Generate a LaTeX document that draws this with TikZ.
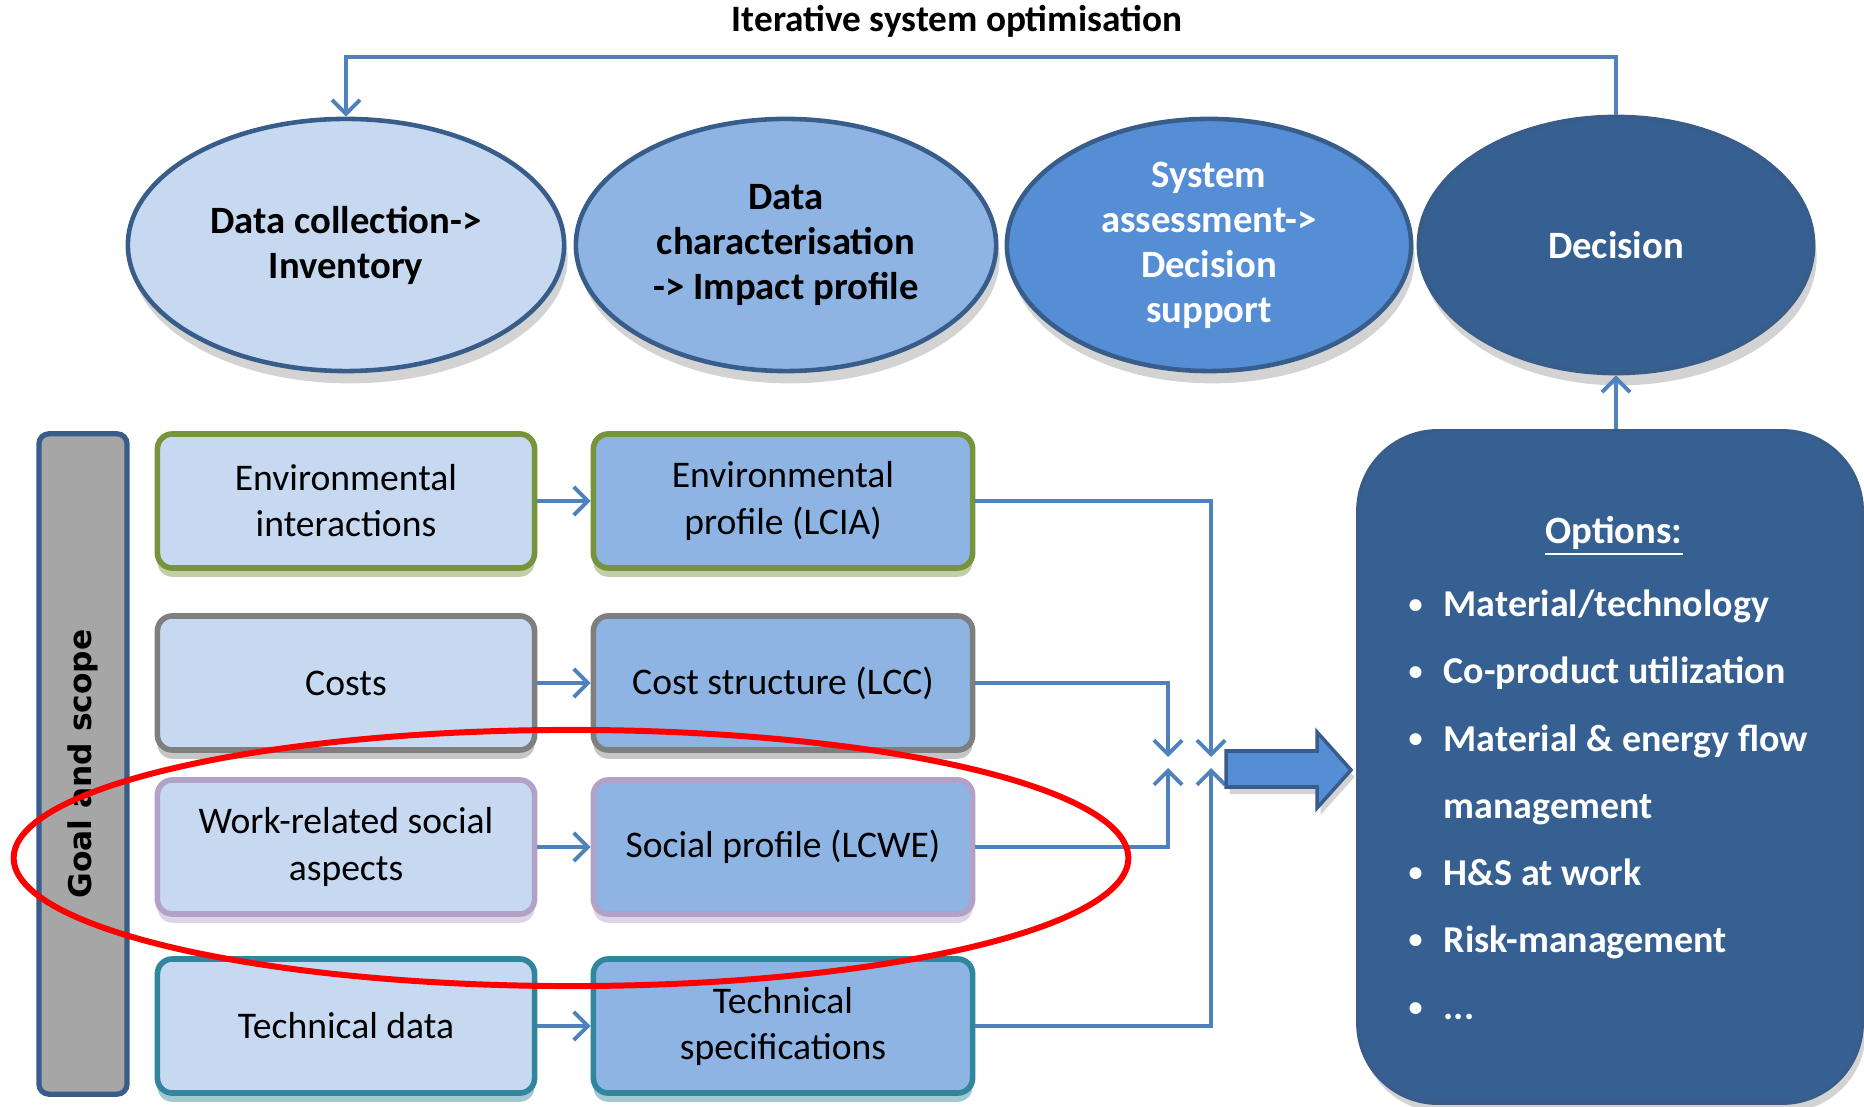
\documentclass[tikz,border=0pt]{standalone}
\usepackage{fontspec}
\setmainfont{Carlito}
\newfontfamily\goalfont{DejaVu Sans}
\usetikzlibrary{shapes.geometric,arrows.meta,shadows}
\definecolor{paleblue}{HTML}{C6D9F1}
\definecolor{midblue}{HTML}{8EB4E3}
\definecolor{brightblue}{HTML}{558ED5}
\definecolor{darkblue}{HTML}{376092}
\definecolor{rimblue}{HTML}{385D8A}
\definecolor{flowblue}{HTML}{4F81BD}
\definecolor{envgreen}{HTML}{77933C}
\definecolor{costgray}{HTML}{7F7F7F}
\definecolor{socpurple}{HTML}{B3A2C7}
\definecolor{techteal}{HTML}{31859C}
\definecolor{goalgray}{HTML}{A6A6A6}
\newcommand{\optbullet}{\makebox[0.35cm][l]{\raisebox{0.2ex}{\footnotesize\textbullet}}}
\begin{document}
\begin{tikzpicture}[x=0.01cm, y=-0.01cm,
  phase/.style={ellipse, draw=rimblue, line width=1.3pt, inner sep=0pt, align=center,
    font=\fontsize{11}{12.8}\selectfont\bfseries,
    drop shadow={shadow xshift=1pt, shadow yshift=-3.5pt, opacity=0.35}},
  block/.style={rectangle, rounded corners=0.15cm, draw=#1, line width=1.6pt,
    minimum height=1.34cm, align=center, font=\fontsize{10.7}{13.1}\selectfont,
    drop shadow={shadow xshift=0pt, shadow yshift=-2.5pt, fill=#1, opacity=0.45}},
  inblock/.style={block=#1, fill=paleblue, minimum width=3.77cm},
  outblock/.style={block=#1, fill=midblue, minimum width=3.79cm},
  flow/.style={draw=flowblue, line width=1.1pt, -{Straight Barb[length=4pt,width=8pt]}}]
\useasboundingbox (0,0) rectangle (1864,1107);
\node[font=\fontsize{10.6}{13}\selectfont\bfseries] (title) at (957,21) {Iterative system optimisation};
\node[phase, fill=paleblue, minimum width=4.36cm, minimum height=2.52cm] (collect) at (346,245) {Data collection->\\Inventory};
\node[phase, fill=midblue, minimum width=4.20cm, minimum height=2.52cm] (charact) at (786,245) {Data\\characterisation\\-> Impact profile};
\node[phase, fill=brightblue, text=white, minimum width=4.04cm, minimum height=2.52cm] (assess) at (1209,245) {System\\assessment->\\Decision\\support};
\node[phase, fill=darkblue, text=white, minimum width=3.94cm, minimum height=2.56cm] (decide) at (1616,245) {Decision};
\coordinate (loop) at (0,57);
\draw[flow] (decide.north) -- (decide.north |- loop) -| (collect.north);
\node[draw=rimblue, fill=goalgray, line width=1.5pt, rounded corners=0.1cm, rotate=90,
  minimum width=6.6cm, minimum height=0.88cm, font=\goalfont\bfseries\fontsize{8.9}{10}\selectfont] (goal) at (83,764) {Goal and scope};
\node[inblock=envgreen] (envin) at (346,501) {Environmental\\interactions};
\node[outblock=envgreen] (envout) at (783,501) {Environmental\\profile (LCIA)};
\node[inblock=costgray] (costin) at (346,683) {Costs};
\node[outblock=costgray] (costout) at (783,683) {Cost structure (LCC)};
\node[inblock=socpurple] (socin) at (346,847) {Work-related social\\aspects};
\node[outblock=socpurple] (socout) at (783,847) {Social profile (LCWE)};
\node[inblock=techteal] (techin) at (346,1026) {Technical data};
\node[outblock=techteal] (techout) at (783,1026) {Technical\\specifications};
\draw[flow] (envin) -- (envout);
\draw[flow] (costin) -- (costout);
\draw[flow] (socin) -- (socout);
\draw[flow] (techin) -- (techout);
\coordinate (downA) at (1211,757);
\coordinate (downB) at (1168,757);
\coordinate (upB) at (1168,768);
\coordinate (upA) at (1211,768);
\draw[flow] (envout.east) -| (downA);
\draw[flow] (costout.east) -| (downB);
\draw[flow] (socout.east) -| (upB);
\draw[flow] (techout.east) -| (upA);
\draw[fill=brightblue, draw=rimblue, line width=1pt, drop shadow={shadow xshift=1pt, shadow yshift=-2pt, opacity=0.35}]
  (1226,751) -- (1317,751) -- (1317,732) -- (1351,770) -- (1317,808) -- (1317,787) -- (1226,787) -- cycle;
\node[fill=darkblue, draw=rimblue, line width=1pt, rounded corners=0.8cm, minimum width=5.04cm, minimum height=6.72cm,
  drop shadow={shadow xshift=1pt, shadow yshift=-2.5pt, opacity=0.35}] (options) at (1610,767) {};
\draw[flow] (options.north -| decide.south) -- (decide.south);
\node[text=white, font=\fontsize{11}{13}\selectfont\bfseries] (opthead) at (1614,536) {\underline{Options:}};
\node[text=white, font=\fontsize{10.8}{19.1}\selectfont\bfseries, align=left, anchor=west, inner sep=0pt] (optlist) at (1408,805)
  {\optbullet Material/technology\\
   \optbullet Co-product utilization\\
   \optbullet Material \& energy flow\\
   \hspace*{0.35cm}management\\
   \optbullet H\&S at work\\
   \optbullet Risk-management\\
   \optbullet ...};
\node[ellipse, draw=red, line width=1.7pt, minimum width=11.14cm, minimum height=2.56cm, inner sep=0pt] (highlight) at (571,858) {};
\end{tikzpicture}
\end{document}
